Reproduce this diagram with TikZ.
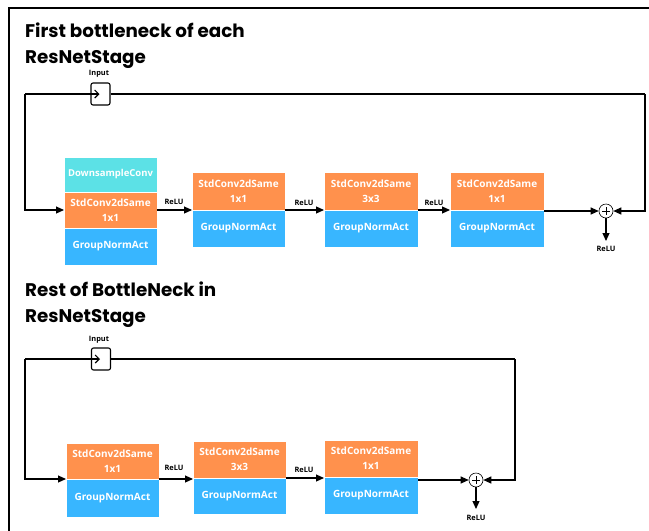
\documentclass[tikz,border=0pt]{standalone}
\usepackage{fontspec}
\setmainfont{Poppins}
\newfontfamily\blkfont{Open Sans}
\usetikzlibrary{arrows.meta,calc}
\definecolor{cyanc}{HTML}{5CE1E6}
\definecolor{orangec}{HTML}{FF914D}
\definecolor{bluec}{HTML}{38B6FF}
\tikzset{
  blk/.style={inner sep=0pt, outer sep=0pt, text=white, font=\blkfont\fontsize{10}{15}\selectfont\bfseries, align=center, draw=white, line width=0.4pt},
  cyb/.style={blk, fill=cyanc, font=\blkfont\fontsize{9.5}{15}\selectfont\bfseries},
  orb/.style={blk, fill=orangec},
  blb/.style={blk, fill=bluec},
  arr/.style={line width=1.1pt, -{Triangle[length=8pt,width=7pt]}},
  conn/.style={line width=1.1pt},
  small/.style={font=\blkfont\fontsize{7.4}{8}\selectfont\bfseries, inner sep=0pt},
  title/.style={font=\fontsize{18.3}{26}\selectfont\bfseries, anchor=north west, align=left, inner sep=0pt},
  inbox/.style={draw, line width=1.1pt, rounded corners=2pt, minimum width=19pt, minimum height=22pt, inner sep=0pt},
  plus/.style={draw, circle, line width=0.6pt, minimum size=14pt, inner sep=0pt},
}
\begin{document}
\begin{tikzpicture}[x=1pt,y=-1pt]
\useasboundingbox (0,0) rectangle (649,531);
\fill[white] (0,0) rectangle (649,531);
\draw[line width=2.6pt] (9,540) -- (9,8) -- (660,8);

% ---------- top section ----------
\node[title] (t1) at (25,23) {First bottleneck of each\\ResNetStage};
\node[inbox] (in1) at (100.5,94) {};
\node[small] (in1l) at (99,74) {Input};
\coordinate (cL1) at (25,94);
\coordinate (cR1) at (645,94);
\coordinate (ch1) at (99.5,94);
\draw[conn, -{Straight Barb[length=4pt,width=8pt]}] (cL1) -- (ch1);

\node[cyb, minimum width=93pt, minimum height=35pt] (a1c) at (110.5,174.5) {DownsampleConv};
\node[orb, minimum width=93pt, minimum height=36pt] (a1o) at (110.5,210) {StdConv2dSame\\1x1};
\node[blb, minimum width=93pt, minimum height=37pt] (a1b) at (110.5,246.5) {GroupNormAct};

\node[orb, minimum width=93pt, minimum height=38pt] (a2o) at (238.5,191) {StdConv2dSame\\1x1};
\node[blb, minimum width=93pt, minimum height=37pt] (a2b) at (238.5,228.5) {GroupNormAct};

\node[orb, minimum width=94pt, minimum height=38pt] (a3o) at (371,191) {StdConv2dSame\\3x3};
\node[blb, minimum width=94pt, minimum height=37pt] (a3b) at (371,228.5) {GroupNormAct};

\node[orb, minimum width=94pt, minimum height=38pt] (a4o) at (497,191) {StdConv2dSame\\1x1};
\node[blb, minimum width=94pt, minimum height=37pt] (a4b) at (497,228.5) {GroupNormAct};

\node[plus] (p1) at (606,211) {};
\draw[line width=0.6pt] ($(p1.center)+(-4,0)$) -- ($(p1.center)+(4,0)$) ($(p1.center)+(0,-4)$) -- ($(p1.center)+(0,4)$);
\coordinate (d1) at (606,241);
\node[small] (r1) at (606,249) {ReLU};

\draw[arr] (cL1) |- (a1o.west);
\draw[conn] (in1.east) -- (cR1);
\draw[arr] (cR1) |- (p1.east);
\draw[arr] (a1o.east) -- (a1o.east -| a2o.west);
\draw[arr] (a2o.south east) -- (a2o.south east -| a3o.west);
\draw[arr] (a3o.south east) -- (a3o.south east -| a4o.west);
\draw[arr] (p1.west -| a4o.east) -- (p1.west);
\draw[arr] (p1.south) -- (d1);
\node[small] (l1) at (174,202) {ReLU};
\node[small] (l2) at (304,203) {ReLU};
\node[small] (l3) at (434,203) {ReLU};

% ---------- bottom section ----------
\node[title] (t2) at (25,282) {Rest of BottleNeck in\\ResNetStage};
\node[inbox] (in2) at (101,359) {};
\node[small] (in2l) at (99,340) {Input};
\coordinate (cL2) at (25,359);
\coordinate (cR2) at (515,359);
\coordinate (ch2) at (100,359);
\draw[conn, -{Straight Barb[length=4pt,width=8pt]}] (cL2) -- (ch2);

\node[orb, minimum width=93pt, minimum height=36pt] (b1o) at (112.5,461) {StdConv2dSame\\1x1};
\node[blb, minimum width=93pt, minimum height=38pt] (b1b) at (112.5,498) {GroupNormAct};

\node[orb, minimum width=93pt, minimum height=37pt] (b2o) at (239.5,459.5) {StdConv2dSame\\3x3};
\node[blb, minimum width=93pt, minimum height=36pt] (b2b) at (239.5,496) {GroupNormAct};

\node[orb, minimum width=94pt, minimum height=37pt] (b3o) at (371,458.5) {StdConv2dSame\\1x1};
\node[blb, minimum width=94pt, minimum height=37pt] (b3b) at (371,495.5) {GroupNormAct};

\node[plus] (p2) at (476,480) {};
\draw[line width=0.6pt] ($(p2.center)+(-4,0)$) -- ($(p2.center)+(4,0)$) ($(p2.center)+(0,-4)$) -- ($(p2.center)+(0,4)$);
\coordinate (d2) at (476,509);
\node[small] (r2) at (476,518) {ReLU};

\draw[arr] (cL2) |- (b1o.south west);
\draw[conn] (in2.east) -- (cR2);
\draw[arr] (cR2) |- (p2.east);
\draw[arr] (b1o.south east) -- (b1o.south east -| b2o.west);
\draw[arr] (b2o.south east) -- (b2o.south east -| b3o.west);
\draw[arr] (p2.west -| b3o.east) -- (p2.west);
\draw[arr] (p2.south) -- (d2);
\node[small] (m1) at (174,468) {ReLU};
\node[small] (m2) at (304,470) {ReLU};
\end{tikzpicture}
\end{document}
